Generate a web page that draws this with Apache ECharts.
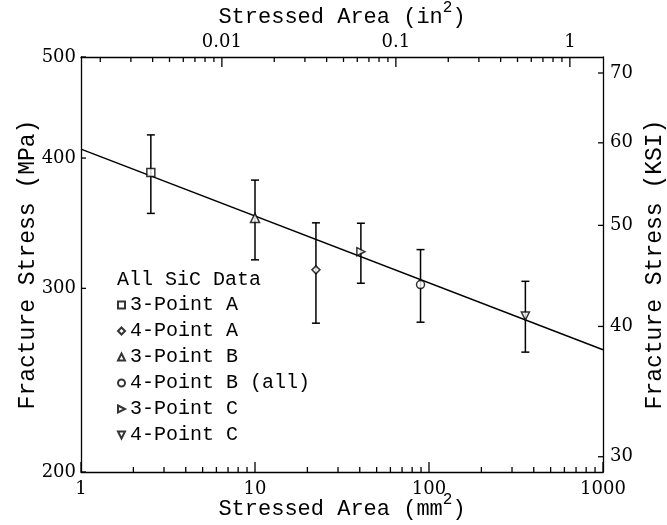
<!DOCTYPE html>
<html>
<head>
<meta charset="utf-8">
<title>SiC fracture stress vs stressed area</title>
<script src="https://cdn.jsdelivr.net/npm/echarts@6/dist/echarts.min.js"></script>
<style>
  html, body { margin: 0; padding: 0; background: #fff; }
  #main { width: 667px; height: 525px; }
</style>
</head>
<body>
<div id="main"></div>
<script>
// data (stressed area in mm^2, stress in MPa)
var area      = [2.52, 10.0, 22.4, 40.6, 89.4, 358];
var stress    = [387.5, 350.5, 312.5, 325.3, 302.5, 282.2];
var errLow    = [354, 319.5, 277.8, 303.4, 278.4, 260.6];
var errHigh   = [421, 381, 346.7, 346.4, 326.8, 304.7];
var pointType = ['3-Point A', '3-Point B', '4-Point A', '3-Point C', '4-Point B (all)', '4-Point C'];

// weibull fit line end points
var fitArea   = [1, 1000];
var fitStress = [408, 262];

// legend entries and their markers
var RIGHT_TRI = 'path://M0,0L10,5L0,10Z';
var DOWN_TRI  = 'path://M0,0L10,0L5,10Z';
var testNames   = ['3-Point A', '4-Point A', '3-Point B', '4-Point B (all)', '3-Point C', '4-Point C'];
var testSymbols = ['rect', 'diamond', 'triangle', 'circle', RIGHT_TRI, DOWN_TRI];

// ticks
var xMajor  = [1, 10, 100, 1000];
var xMinor  = [2,3,4,5,6,7,8,9, 20,30,40,50,60,70,80,90, 200,300,400,500,600,700,800,900];
var inMajor = [0.01, 0.1, 1];
var inMinor = [0.002,0.003,0.004,0.005,0.006,0.007,0.008,0.009,
               0.02,0.03,0.04,0.05,0.06,0.07,0.08,0.09,
               0.2,0.3,0.4,0.5,0.6,0.7,0.8,0.9];
var mpaTicks = [200, 300, 400, 500];
var ksiTicks = [30, 40, 50, 60, 70];

var MM2_PER_IN2 = 645.16;
var MPA_PER_KSI = 6.895;
var xMin = 1, xMax = 1000, yMin = 200, yMax = 500;

var mono = 'Liberation Mono';
var serif = 'DejaVu Serif';
var titleRich = {
  b: { fontFamily: mono, fontSize: 22, color: '#000', verticalAlign: 'bottom', lineHeight: 28 },
  s: { fontFamily: mono, fontSize: 16, color: '#000', verticalAlign: 'top', lineHeight: 28 }
};
var plainNum = function (v) { return String(+v.toPrecision(6)); };
var tickLabel = { fontFamily: serif, fontSize: 18, color: '#000', formatter: plainNum };
var blackLine = { show: true, lineStyle: { color: '#000', width: 1.3 } };

// inward tick marks: position along the axis from the scale, edge from the grid rect
var xMid = Math.sqrt(xMin * xMax), yMid = Math.sqrt(yMin * yMax);
function tickSeries(side, len, rows) {
  return {
    type: 'custom',
    xAxisIndex: 0,
    yAxisIndex: 0,
    silent: true,
    clip: false,
    encode: { x: 0, y: 1 },
    renderItem: function (params, api) {
      var p = api.coord([api.value(0), api.value(1)]);
      var r = params.coordSys;
      var x1, y1, x2, y2;
      if (side === 'bottom') { x1 = x2 = p[0]; y1 = r.y + r.height; y2 = y1 - len; }
      else if (side === 'top') { x1 = x2 = p[0]; y1 = r.y; y2 = y1 + len; }
      else if (side === 'left') { y1 = y2 = p[1]; x1 = r.x; x2 = x1 + len; }
      else { y1 = y2 = p[1]; x1 = r.x + r.width; x2 = x1 - len; }
      return {
        type: 'line',
        shape: { x1: x1, y1: y1, x2: x2, y2: y2 },
        style: { stroke: '#000', lineWidth: 1.3 }
      };
    },
    data: rows,
    z: 4
  };
}

var myChart = echarts.init(document.getElementById('main'));

var scatterSeries = testNames.map(function (name, k) {
  var pts = [];
  for (var i = 0; i < area.length; i++) {
    if (pointType[i] === name) pts.push([area[i], stress[i]]);
  }
  var sym = testSymbols[k];
  return {
    name: name,
    type: 'scatter',
    xAxisIndex: 0,
    yAxisIndex: 0,
    symbol: sym,
    symbolSize: sym === 'triangle' ? 9 : 8,
    itemStyle: { color: '#fff', borderColor: '#000', borderWidth: 1.5 },
    data: pts,
    z: 5
  };
});

var barData = area.map(function (a, i) { return [a, errLow[i], errHigh[i]]; });

var tickMarks = [
  tickSeries('bottom', 10, xMajor.map(function (v) { return [v, yMid]; })),
  tickSeries('bottom', 5, xMinor.map(function (v) { return [v, yMid]; })),
  tickSeries('top', 10, inMajor.map(function (v) { return [v * MM2_PER_IN2, yMid]; })),
  tickSeries('top', 5, inMinor.map(function (v) { return [v * MM2_PER_IN2, yMid]; })),
  tickSeries('left', 5, mpaTicks.map(function (v) { return [xMid, v]; })),
  tickSeries('right', 5, ksiTicks.map(function (v) { return [xMid, v * MPA_PER_KSI]; }))
];

myChart.setOption({
  animation: false,
  backgroundColor: '#fff',
  title: {
    text: 'All SiC Data',
    left: 117,
    top: 270,
    padding: 0,
    textStyle: { fontFamily: mono, fontSize: 20, fontWeight: 'normal', color: '#000' }
  },
  legend: {
    data: testNames.map(function (n, k) { return { name: n, icon: testSymbols[k] }; }),
    orient: 'vertical',
    left: 117,
    top: 295,
    padding: 0,
    itemWidth: 7,
    itemHeight: 7,
    itemGap: 6,
    textStyle: { fontFamily: mono, fontSize: 20, color: '#000', lineHeight: 20 }
  },
  grid: { left: 81, right: 64, top: 57, bottom: 53, outerBoundsMode: 'none', containLabel: false },
  xAxis: [
    {
      type: 'log', position: 'bottom', min: xMin, max: xMax,
      name: '{b|Stressed Area (mm}{s|2}{b|)}',
      nameLocation: 'middle', nameGap: 20, nameMoveOverlap: false,
      nameTextStyle: { rich: titleRich },
      axisLine: blackLine,
      axisTick: { show: false },
      axisLabel: Object.assign({ margin: 8, customValues: xMajor }, tickLabel),
      splitLine: { show: false }
    },
    {
      type: 'log', position: 'top', min: xMin / MM2_PER_IN2, max: xMax / MM2_PER_IN2,
      name: '{b|Stressed Area (in}{s|2}{b|)}',
      nameLocation: 'middle', nameGap: 29, nameMoveOverlap: false,
      nameTextStyle: { rich: titleRich },
      axisLine: blackLine,
      axisTick: { show: false },
      axisLabel: Object.assign({ margin: 6, customValues: inMajor }, tickLabel),
      splitLine: { show: false }
    }
  ],
  yAxis: [
    {
      type: 'log', position: 'left', min: yMin, max: yMax,
      name: 'Fracture Stress (MPa)',
      nameLocation: 'middle', nameGap: 42, nameRotate: 90, nameMoveOverlap: false,
      nameTextStyle: { fontFamily: mono, fontSize: 23, color: '#000' },
      axisLine: blackLine,
      axisTick: { show: false },
      axisLabel: Object.assign({ margin: 5, customValues: mpaTicks }, tickLabel),
      splitLine: { show: false }
    },
    {
      type: 'log', position: 'right', min: yMin / MPA_PER_KSI, max: yMax / MPA_PER_KSI,
      name: 'Fracture Stress (KSI)',
      nameLocation: 'middle', nameGap: 40, nameRotate: 90, nameMoveOverlap: false,
      nameTextStyle: { fontFamily: mono, fontSize: 23, color: '#000' },
      axisLine: blackLine,
      axisTick: { show: false },
      axisLabel: Object.assign({ margin: 7, customValues: ksiTicks }, tickLabel),
      splitLine: { show: false }
    }
  ],
  series: [
    {
      name: 'fit',
      type: 'line',
      xAxisIndex: 0,
      yAxisIndex: 0,
      symbol: 'none',
      lineStyle: { color: '#000', width: 1.5 },
      data: fitArea.map(function (a, i) { return [a, fitStress[i]]; }),
      z: 3
    },
    {
      name: 'error',
      type: 'custom',
      xAxisIndex: 0,
      yAxisIndex: 0,
      encode: { x: 0, y: [1, 2] },
      renderItem: function (params, api) {
        var lo = api.coord([api.value(0), api.value(1)]);
        var hi = api.coord([api.value(0), api.value(2)]);
        var w = 4;
        var st = { stroke: '#000', lineWidth: 1.5 };
        return {
          type: 'group',
          children: [
            { type: 'line', shape: { x1: lo[0], y1: lo[1], x2: hi[0], y2: hi[1] }, style: st },
            { type: 'line', shape: { x1: lo[0] - w, y1: lo[1], x2: lo[0] + w, y2: lo[1] }, style: st },
            { type: 'line', shape: { x1: hi[0] - w, y1: hi[1], x2: hi[0] + w, y2: hi[1] }, style: st }
          ]
        };
      },
      data: barData,
      z: 4
    }
  ].concat(scatterSeries, tickMarks)
});
</script>
</body>
</html>
